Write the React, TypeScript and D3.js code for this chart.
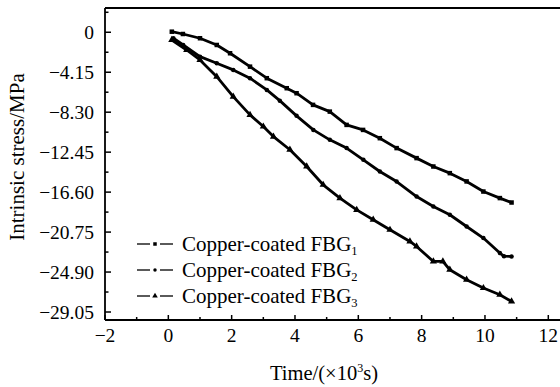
import * as d3 from 'd3'

// values (time in 10^3 s, stress in MPa)
const t1 = [0.11, 0.46, 1.0, 1.53, 1.95, 2.58, 3.11, 3.74, 4.05, 4.57, 5.1, 5.63, 6.15, 6.68, 7.21, 7.84, 8.37, 8.89, 9.42, 9.95, 10.47, 10.84]
const v1 = [0.06, -0.18, -0.62, -1.32, -2.18, -3.57, -4.77, -5.81, -6.33, -7.54, -8.24, -9.62, -10.14, -11.0, -12.03, -13.07, -13.94, -14.63, -15.49, -16.54, -17.22, -17.68]

const t2 = [0.16, 0.47, 1.0, 1.53, 2.05, 2.58, 3.11, 3.52, 4.05, 4.58, 5.1, 5.63, 6.16, 6.68, 7.21, 7.84, 8.37, 8.89, 9.42, 9.95, 10.47, 10.6, 10.84]
const v2 = [-0.62, -1.32, -2.53, -3.22, -3.91, -4.77, -5.99, -7.1, -8.68, -10.14, -11.17, -12.03, -13.25, -14.46, -15.5, -17.06, -18.09, -18.95, -20.17, -21.37, -22.93, -23.25, -23.28]

const t3 = [0.11, 0.58, 1.0, 1.53, 2.05, 2.58, 3.0, 3.32, 3.84, 4.37, 4.89, 5.42, 5.95, 6.47, 7.0, 7.63, 7.84, 8.37, 8.67, 8.89, 9.42, 9.95, 10.47, 10.84]
const v3 = [-0.8, -1.84, -2.87, -4.61, -6.68, -8.58, -9.79, -10.83, -12.2, -13.94, -15.84, -17.22, -18.44, -19.47, -20.51, -21.72, -22.24, -23.8, -23.8, -24.66, -25.7, -26.56, -27.25, -27.95]

const seriesNames = ['Copper-coated FBG', 'Copper-coated FBG', 'Copper-coated FBG']
const seriesSubs = ['1', '2', '3']

const yTicks = [0, -4.15, -8.3, -12.45, -16.6, -20.75, -24.9, -29.05]
const yTickLabels = ['0', '\u22124.15', '\u22128.30', '\u221212.45', '\u221216.60', '\u221220.75', '\u221224.90', '\u221229.05']
const yMinor = [2.075, -2.075, -6.225, -10.375, -14.525, -18.675, -22.825, -26.975]
const xTicks = [-2, 0, 2, 4, 6, 8, 10, 12]
const xTickLabels = ['\u22122', '0', '2', '4', '6', '8', '10', '12']
const xMinor = [-1, 1, 3, 5, 7, 9, 11]

const W = 560
const H = 387
const left = 105
const top = 8
const bottom = 320
const font = 'Liberation Serif, serif'

type Shape = 'square' | 'circle' | 'triangle'

function Marker({ x, y, shape, s }: { x: number; y: number; shape: Shape; s: number }) {
  if (shape === 'square') return <rect x={x - s / 2} y={y - s / 2} width={s} height={s} fill="#000" />
  if (shape === 'circle') return <circle cx={x} cy={y} r={s / 2} fill="#000" />
  const sym = d3.symbol(d3.symbolTriangle, s * s * 1.1)()
  return <path d={sym ?? ''} transform={`translate(${x},${y})`} fill="#000" />
}

export default function App() {
  const x = d3.scaleLinear().domain([-2, 12]).range([left, 548.3])
  const y = d3.scaleLinear().domain([-29.88, 2.52]).range([bottom, top])

  const series = [
    { t: t1, v: v1, shape: 'square' as Shape },
    { t: t2, v: v2, shape: 'circle' as Shape },
    { t: t3, v: v3, shape: 'triangle' as Shape },
  ]

  const line = d3.line<[number, number]>()
    .x(d => x(d[0]))
    .y(d => y(d[1]))

  const legendY = [244, 270, 296]

  return (
    <div style={{ position: 'fixed', left: 0, top: 0 }}>
      <svg width={W} height={H} style={{ display: 'block', background: '#fff', fontFamily: font }}>
        {/* frame */}
        <line x1={left} x2={W} y1={top} y2={top} stroke="#000" strokeWidth={1.8} />
        <line x1={left} x2={W} y1={bottom} y2={bottom} stroke="#000" strokeWidth={1.8} />
        <line x1={left} x2={left} y1={top} y2={bottom} stroke="#000" strokeWidth={1.8} />

        {/* y ticks */}
        {yTicks.map((v, i) => (
          <g key={'y' + i}>
            <line x1={left} x2={left + 6} y1={y(v)} y2={y(v)} stroke="#000" strokeWidth={1.5} />
            <text x={94} y={y(v)} dy="0.34em" textAnchor="end" fontSize={19.5}>{yTickLabels[i]}</text>
          </g>
        ))}
        {yMinor.map((v, i) => (
          <line key={'ym' + i} x1={left} x2={left + 3.5} y1={y(v)} y2={y(v)} stroke="#000" strokeWidth={1.5} />
        ))}

        {/* x ticks */}
        {xTicks.map((v, i) => (
          <g key={'x' + i}>
            <line x1={x(v)} x2={x(v)} y1={bottom} y2={bottom - 5} stroke="#000" strokeWidth={1.5} />
            <text x={x(v)} y={342} textAnchor="middle" fontSize={19.5}>{xTickLabels[i]}</text>
          </g>
        ))}
        {xMinor.map((v, i) => (
          <line key={'xm' + i} x1={x(v)} x2={x(v)} y1={bottom} y2={bottom - 3} stroke="#000" strokeWidth={1.5} />
        ))}

        {/* axis titles */}
        <text transform={`translate(24,157) rotate(-90)`} textAnchor="middle" fontSize={21}>
          Intrinsic stress/MPa
        </text>
        <text x={324} y={380} textAnchor="middle" fontSize={20.5}>
          Time/(×10<tspan fontSize={12} dy={-8}>3</tspan><tspan dy={8}>s)</tspan>
        </text>

        {/* series */}
        {series.map((s, i) => {
          const pts = s.t.map((t, j) => [t, s.v[j]] as [number, number])
          return (
            <g key={'s' + i}>
              <path d={line(pts) ?? ''} fill="none" stroke="#000" strokeWidth={2.8} strokeLinejoin="round" />
              {pts.map((p, j) => (
                <Marker key={j} x={x(p[0])} y={y(p[1])} shape={s.shape} s={4.5} />
              ))}
            </g>
          )
        })}

        {/* legend */}
        {seriesNames.map((name, i) => (
          <g key={'l' + i}>
            <line x1={137} x2={150} y1={legendY[i]} y2={legendY[i]} stroke="#000" strokeWidth={1.3} />
            <line x1={160} x2={173} y1={legendY[i]} y2={legendY[i]} stroke="#000" strokeWidth={1.3} />
            <Marker x={155} y={legendY[i]} shape={series[i].shape} s={3.5} />
            <text x={182} y={legendY[i]} dy="0.34em" fontSize={21}>
              {name}<tspan fontSize={12.5} dy={4}>{seriesSubs[i]}</tspan>
            </text>
          </g>
        ))}
      </svg>
    </div>
  )
}
